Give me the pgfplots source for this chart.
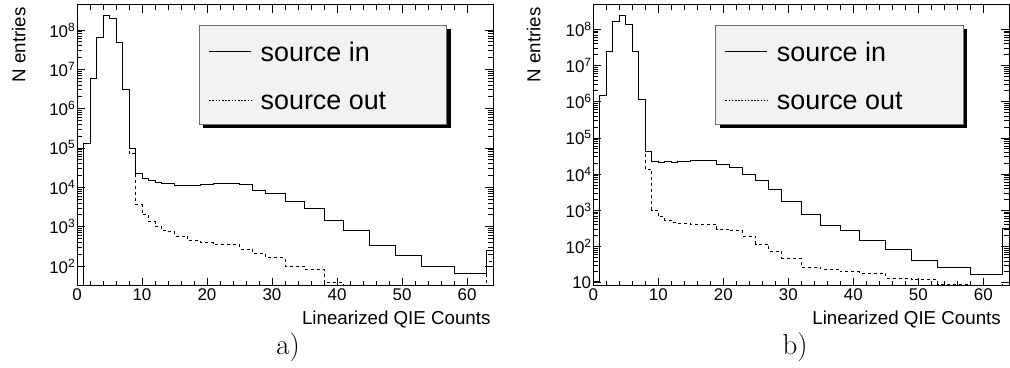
\documentclass[border=0pt]{standalone}
\usepackage{fontspec}
\setmainfont{Liberation Sans}
\newfontfamily\lmr{Latin Modern Roman}
\usepackage{pgfplots}
\pgfplotsset{compat=1.18}

\definecolor{legfill}{RGB}{242,242,242}
\definecolor{legdraw}{RGB}{110,110,110}

\newcommand{\ex}[1]{10\raisebox{6bp}{\fontsize{12}{12}\selectfont #1}}

\pgfplotsset{
  hin/.style={black, line width=1bp, const plot, forget plot},
  hout/.style={black, line width=0.9bp, const plot, forget plot, dash pattern=on 3bp off 3bp},
}

\begin{document}
\begin{tikzpicture}
\useasboundingbox (0bp,0bp) rectangle (1010bp,368bp);

% legend frames with shadow
\fill[black] (203bp,240bp) rectangle (450.7bp,339bp);
\filldraw[fill=legfill, draw=legdraw, line width=0.8bp] (199bp,244bp) rectangle (446.7bp,343bp);
\fill[black] (719.7bp,240bp) rectangle (967.3bp,339bp);
\filldraw[fill=legfill, draw=legdraw, line width=0.8bp] (715.7bp,244bp) rectangle (963.3bp,343bp);

% ---------------- panel a ----------------
\begin{axis}[ymode=log,
  scale only axis, width=416bp, height=281bp,
  anchor=south west, at={(77bp,82bp)},
  xmin=0, xmax=64, ymin=31, ymax=4.3e8,
  xtick={0,10,...,60}, minor x tick num=4,
  tick align=inside, xtick pos=both, ytick pos=both,
  major tick length=8bp, minor tick length=5bp,
  axis line style={line width=1bp},
  every tick/.style={black, line width=0.7bp},
  /pgf/number format/assume math mode=true,
  xticklabel style={font=\fontsize{17}{17}\selectfont, inner xsep=1bp, inner ysep=0pt, yshift=-2bp},
  yticklabel style={font=\fontsize{17}{17}\selectfont, inner xsep=2bp, inner ysep=0pt},
  legend image code/.code={\draw[#1] (0bp,0bp) -- (42bp,0bp);},
  legend style={draw=none, fill=none, inner sep=0pt,
    font=\fontsize{27}{27}\selectfont,
    at={(axis description cs:0.316,0.868)}, anchor=north west,
    row sep=29.4bp, column sep=9bp,
    nodes={inner sep=0pt, text height=19bp, text depth=0bp}},
  legend cell align=left,
  ytick={1e2,1e3,1e4,1e5,1e6,1e7,1e8},
  yticklabels={{\ex{2}},{\ex{3}},{\ex{4}},{\ex{5}},{\ex{6}},{\ex{7}},{\ex{8}}},
]
\addplot[hin] coordinates {
(0,1) (1,1.3e5) (2,5.9e6) (3,6.5e7) (4,2.3e8) (5,2.0e8) (6,4.8e7) (7,3.0e6)
(8,9.8e4) (9,2.2e4) (10,1.7e4) (11,1.47e4) (12,1.3e4) (13,1.23e4) (15,1.14e4)
(17,1.1e4) (19,1.16e4) (21,1.23e4) (25,1.2e4) (27,8.5e3) (29,7.0e3) (32,4.4e3)
(35,2.9e3) (38,1.45e3) (41,820) (45,325) (49,190) (53,96) (58,63) (63,250) (64,250)
};
\addplot[hout] coordinates {
(0,1) (1,1.3e5) (2,5.9e6) (3,6.5e7) (4,2.3e8) (5,2.0e8) (6,4.8e7) (7,3.0e6)
(8,7.2e4) (9,3.6e3) (10,2.0e3) (11,1.33e3) (12,1.0e3) (13,800) (14,740) (15,575)
(17,435) (19,390) (21,355) (25,270) (27,205) (29,165) (32,100) (35,83) (38,38)
(41,10) (63,128) (64,128)
};
\addlegendimage{black, line width=1bp}
\addlegendentry{source in}
\addlegendimage{black, line width=0.8bp, dash pattern=on 1.6bp off 1.6bp}
\addlegendentry{source out}
\end{axis}

% ---------------- panel b ----------------
\begin{axis}[ymode=log,
  scale only axis, width=416bp, height=281bp,
  anchor=south west, at={(593.3bp,82bp)},
  xmin=0, xmax=64, ymin=8.1, ymax=4.7e8,
  xtick={0,10,...,60}, minor x tick num=4,
  tick align=inside, xtick pos=both, ytick pos=both,
  major tick length=8bp, minor tick length=5bp,
  axis line style={line width=1bp},
  every tick/.style={black, line width=0.7bp},
  /pgf/number format/assume math mode=true,
  xticklabel style={font=\fontsize{17}{17}\selectfont, inner xsep=1bp, inner ysep=0pt, yshift=-2bp},
  yticklabel style={font=\fontsize{17}{17}\selectfont, inner xsep=2bp, inner ysep=0pt},
  legend image code/.code={\draw[#1] (0bp,0bp) -- (42bp,0bp);},
  legend style={draw=none, fill=none, inner sep=0pt,
    font=\fontsize{27}{27}\selectfont,
    at={(axis description cs:0.316,0.868)}, anchor=north west,
    row sep=29.4bp, column sep=9bp,
    nodes={inner sep=0pt, text height=19bp, text depth=0bp}},
  legend cell align=left,
  ytick={1e1,1e2,1e3,1e4,1e5,1e6,1e7,1e8},
  yticklabels={{10},{\ex{2}},{\ex{3}},{\ex{4}},{\ex{5}},{\ex{6}},{\ex{7}},{\ex{8}}},
]
\addplot[hin] coordinates {
(0,11) (1,1.5e6) (2,2.4e7) (3,1.66e8) (4,2.4e8) (5,1.4e8) (6,2.5e7) (7,1.15e6)
(8,4.1e4) (9,2.3e4) (10,2.15e4) (11,2.2e4) (12,2.05e4) (13,2.2e4) (15,2.4e4)
(17,2.45e4) (19,1.9e4) (21,1.5e4) (23,1.0e4) (25,6.5e3) (27,3.8e3) (29,1.8e3)
(32,770) (35,390) (38,280) (41,145) (45,80) (49,42) (53,27) (58,17) (63,320) (64,320)
};
\addplot[hout] coordinates {
(0,11) (1,1.5e6) (2,2.4e7) (3,1.66e8) (4,2.4e8) (5,1.4e8) (6,2.5e7) (7,1.15e6)
(8,1.35e4) (9,1.0e3) (10,660) (11,540) (12,465) (13,440) (15,415) (19,300)
(21,270) (23,195) (25,117) (27,72) (29,47) (32,26) (35,23) (38,20) (41,18)
(45,13) (49,12) (53,9) (58,5) (63,10) (64,10)
};
\addlegendimage{black, line width=1bp}
\addlegendentry{source in}
\addlegendimage{black, line width=0.8bp, dash pattern=on 1.6bp off 1.6bp}
\addlegendentry{source out}
\end{axis}

% labels
\node[rotate=90, anchor=north east, inner sep=0pt, font=\fontsize{18.8}{18.8}\selectfont] at (11.7bp,361bp) {N entries};
\node[rotate=90, anchor=north east, inner sep=0pt, font=\fontsize{18.8}{18.8}\selectfont] at (526.7bp,361bp) {N entries};
\node[anchor=base east, inner sep=0pt, font=\fontsize{18.8}{18.8}\selectfont] at (490.7bp,43bp) {Linearized QIE Counts};
\node[anchor=base east, inner sep=0pt, font=\fontsize{18.8}{18.8}\selectfont] at (1001bp,43bp) {Linearized QIE Counts};
\node[anchor=base, inner sep=0pt, font=\lmr\fontsize{29}{29}\selectfont] at (288bp,14bp) {a)};
\node[anchor=base, inner sep=0pt, font=\lmr\fontsize{29}{29}\selectfont] at (795bp,14bp) {b)};
\end{tikzpicture}
\end{document}
